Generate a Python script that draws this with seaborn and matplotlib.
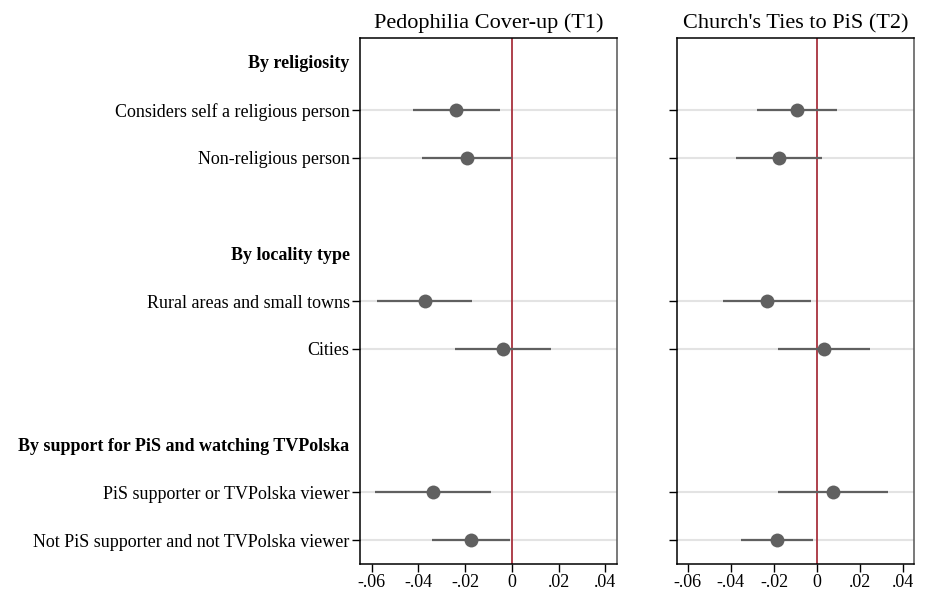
import matplotlib
matplotlib.use("Agg")
import matplotlib.pyplot as plt
import seaborn as sns
import pandas as pd
import numpy as np

# rows from top to bottom; None marks an empty spacer slot
row_labels = ["By religiosity", "Considers self a religious person", "Non-religious person", None,
              "By locality type", "Rural areas and small towns", "Cities", None,
              "By support for PiS and watching TVPolska",
              "PiS supporter or TVPolska viewer", "Not PiS supporter and not TVPolska viewer"]
header_rows = [0, 4, 8]
data_rows = [1, 2, 5, 6, 9, 10]

panel_titles = ["Pedophilia Cover-up (T1)", "Church's Ties to PiS (T2)"]

# estimates and 95% CIs, in data_rows order
t1_est = [-0.0238, -0.0194, -0.0373, -0.0040, -0.0339, -0.0174]
t1_lo = [-0.0423, -0.0386, -0.0577, -0.0244, -0.0587, -0.0343]
t1_hi = [-0.0051, 0.0000, -0.0169, 0.0166, -0.0089, -0.0006]

t2_est = [-0.0095, -0.0177, -0.0233, 0.0030, 0.0072, -0.0185]
t2_lo = [-0.0281, -0.0378, -0.0437, -0.0180, -0.0183, -0.0351]
t2_hi = [0.0092, 0.0025, -0.0028, 0.0244, 0.0328, -0.0017]

x_ticks = [-0.06, -0.04, -0.02, 0, 0.02, 0.04]
x_ticklabels = ["-.06", "-.04", "-.02", "0", ".02", ".04"]

sns.set_theme(style="white")
plt.rcParams['font.family'] = ['Liberation Serif', 'DejaVu Serif']
plt.rcParams['text.color'] = 'black'
plt.rcParams['xtick.color'] = 'black'
plt.rcParams['ytick.color'] = 'black'

fig = plt.figure(figsize=(9.27, 5.94), dpi=100)
ax1 = fig.add_axes([0.3883, 0.0505, 0.2773, 0.8855])
ax2 = fig.add_axes([0.7303, 0.0505, 0.2557, 0.8855])

point_color = "#606060"
zero_color = "#a8323e"

for ax, title, est, lo, hi in [(ax1, panel_titles[0], t1_est, t1_lo, t1_hi),
                               (ax2, panel_titles[1], t2_est, t2_lo, t2_hi)]:
    df = pd.DataFrame({"row": data_rows, "est": est, "lo": lo, "hi": hi})
    for r in data_rows:
        ax.axhline(r, color="#e3e3e3", lw=1.5, zorder=0)
    ax.axvline(0, color=zero_color, lw=1.3, zorder=1)
    ax.hlines(df["row"], df["lo"], df["hi"], color=point_color, lw=1.6, zorder=2)
    sns.scatterplot(data=df, x="est", y="row", ax=ax, color=point_color, s=100,
                    edgecolor=point_color, linewidth=0, zorder=3, legend=False)

    ax.set_xlim(-0.065, 0.045)
    ax.set_ylim(10.5, -0.5)
    ax.set_xticks(x_ticks)
    ax.set_xticklabels(x_ticklabels, fontsize=13, color="black")
    ax.set_yticks(range(len(row_labels)))
    ax.set_xlabel("")
    ax.set_ylabel("")
    ax.set_title(title, fontsize=16, pad=7, color="black")
    ax.tick_params(axis="both", which="both", direction="out", length=5.5, width=1,
                   color="black", left=True, bottom=True, pad=2)
    for spine in ["left", "bottom", "top"]:
        ax.spines[spine].set_color("black")
        ax.spines[spine].set_linewidth(1.1)
    ax.spines["right"].set_color("#555555")
    ax.spines["right"].set_linewidth(1.1)

    # hide tick marks on header and spacer slots
    for i, tick in enumerate(ax.yaxis.get_major_ticks()):
        if i not in data_rows:
            tick.tick1line.set_visible(False)

ax1.set_yticklabels([lab if lab else "" for lab in row_labels], fontsize=13, color="black")
for i, lab in enumerate(ax1.get_yticklabels()):
    if i in header_rows:
        lab.set_fontweight("bold")
ax2.set_yticklabels([""] * len(row_labels))

fig.savefig("out.png", dpi=100)
